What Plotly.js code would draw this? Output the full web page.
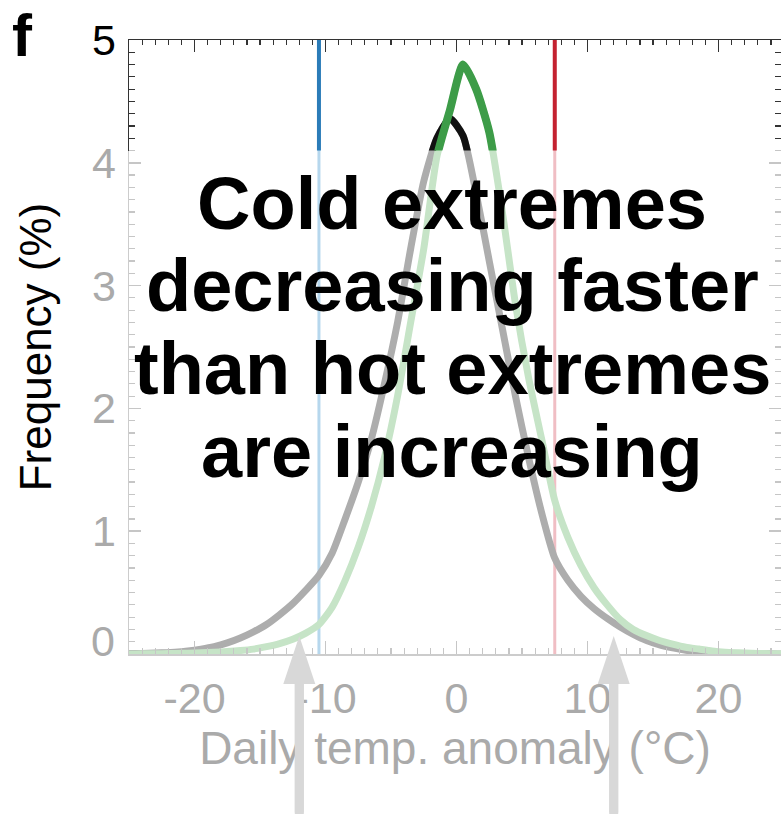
<!DOCTYPE html>
<html>
<head>
<meta charset="utf-8">
<script src="https://cdn.plot.ly/plotly-3.0.1.min.js"></script>
<style>html,body{margin:0;padding:0;background:#fff;}#chart{width:781px;height:814px;}</style>
</head>
<body>
<div id="chart"></div>
<script>
// Daily temperature anomaly bins (°C)
const tempBins = [-25.5,-24.5,-23.5,-22.5,-21.5,-20.5,-19.5,-18.5,-17.5,-16.5,-15.5,-14.5,-13.5,-12.5,-11.5,-10.5,-9.5,-8.5,-7.5,-6.5,-5.5,-4.5,-3.5,-2.5,-1.5,-0.5,
                  0.5,1.5,2.5,3.5,4.5,5.5,6.5,7.5,8.5,9.5,10.5,11.5,12.5,13.5,14.5,15.5,16.5,17.5,18.5,19.5,20.5,21.5,22.5,23.5,24.5,25.5];
// Frequency (%) – reference period (black / grey)
const freqBaseline = [0.003,0.004,0.006,0.01,0.015,0.025,0.04,0.06,0.09,0.13,0.18,0.24,0.32,0.41,0.52,0.64,0.82,1.1,1.4,1.75,2.2,2.7,3.3,3.85,4.2,4.36,
                      4.22,3.75,3.2,2.65,2.1,1.6,1.15,0.78,0.6,0.47,0.37,0.29,0.22,0.16,0.11,0.075,0.05,0.03,0.02,0.012,0.008,0.005,0.003,0.002,0.001,0.001];
// Frequency (%) – recent period (green)
const freqRecent = [0.001,0.001,0.002,0.003,0.005,0.007,0.01,0.014,0.02,0.028,0.04,0.06,0.085,0.12,0.17,0.24,0.38,0.6,0.87,1.2,1.6,2.1,2.7,3.3,4.05,4.43,
                    4.8,4.6,4.25,3.6,2.85,2.25,1.75,1.25,0.95,0.72,0.54,0.4,0.28,0.2,0.15,0.11,0.08,0.055,0.04,0.025,0.015,0.01,0.006,0.004,0.002,0.001];
// Extreme thresholds (°C)
const coldThreshold = -10.5;
const hotThreshold = 7.5;
// Arrow positions (°C)
const arrowX = [-12, 12];
// Tick labels
const xTickVals = [-20, -10, 0, 10, 20];
const xTickText = ['-20', '-10', '0', '10', '20'];
const yTickVals = [1, 2, 3, 4];
const yZeroLabel = '0';
const yTopTickVals = [5];
const fadeLevel = 4.1;
const yMax = 5;
const annotationLines = ['Cold extremes', 'decreasing faster', 'than hot extremes', 'are increasing'];

const FONT = 'Liberation Sans, Arial, Helvetica, sans-serif';
const plotLeft = 129, plotTop = 40, plotBottom = 654, plotW = 652;
const plotH = plotBottom - plotTop;
const py = p => (plotBottom - p) / plotH;
const px = p => (p - plotLeft) / plotW;

const faded = {gray:'#adadad', green:'#c6e4c7', blue:'#b6d7ed', red:'#f0bec4'};
const dark = {black:'#111111', green:'#3d9c48', blue:'#2b7cb8', red:'#c42230'};

function vline(xv, color, w, yaxis) {
  return {x:[xv, xv], y:[0, yMax], mode:'lines', yaxis:yaxis, line:{color:color, width:w}, hoverinfo:'skip', showlegend:false};
}
function curve(y, color, w, yaxis) {
  return {x:tempBins, y:y, mode:'lines', yaxis:yaxis, line:{color:color, width:w, shape:'spline', smoothing:0.6}, hoverinfo:'skip', showlegend:false};
}

const traces = [
  vline(coldThreshold, faded.blue, 3, 'y'),
  vline(hotThreshold, faded.red, 3, 'y'),
  curve(freqBaseline, faded.gray, 7, 'y'),
  curve(freqRecent, faded.green, 7, 'y'),
  vline(coldThreshold, dark.blue, 4, 'y2'),
  vline(hotThreshold, dark.red, 4, 'y2'),
  curve(freqBaseline, dark.black, 7, 'y2'),
  curve(freqRecent, dark.green, 8, 'y2'),
  {x:[], y:[], xaxis:'x2', yaxis:'y', mode:'lines', showlegend:false, hoverinfo:'skip'}
];

const xr = [-25, 24.77];
const grayTick = '#c6c6c6';
const darkTick = '#333333';

const annotations = [];
const baselines = [229, 311, 394, 477];
const fs = 74;
annotationLines.forEach((t, i) => {
  annotations.push({
    xref:'paper', yref:'paper', x:px(452), y:py(baselines[i] - 0.3465*fs),
    xanchor:'center', yanchor:'middle', showarrow:false, text:t,
    font:{family:FONT, size:fs, color:'#000', weight:'bold'}
  });
});
annotations.push({
  xref:'paper', yref:'paper', x:px(10), y:py(0), xanchor:'left', yanchor:'top',
  showarrow:false, text:'f', font:{family:FONT, size:60, color:'#000', weight:'bold'}
});
// y "0" label, raised slightly above the x axis as in the original figure
annotations.push({
  xref:'paper', yref:'paper', x:px(117), y:py(641), xanchor:'right', yanchor:'middle',
  showarrow:false, text:yZeroLabel, font:{family:FONT, size:43, color:'#aaaaaa'}
});
// arrow shafts drawn over the axis title
arrowX.forEach(ax => {
  annotations.push({
    xref:'x', yref:'paper', x:ax, y:py(684), ax:0, ay:150, text:'',
    showarrow:true, arrowhead:0, arrowwidth:9, arrowcolor:'#d8d8d8', standoff:0, startstandoff:0
  });
});

const shapes = arrowX.map(ax => ({
  type:'path', xref:'x', yref:'paper', xsizemode:'pixel', ysizemode:'pixel', xanchor:ax, yanchor:0,
  path:'M-4.5,-200L-4.5,-30L-16,-30L0,18L16,-30L4.5,-30L4.5,-200Z',
  fillcolor:'#d8d8d8', line:{width:0}, layer:'above'
}));

const layout = {
  width:781, height:814,
  margin:{l:plotLeft, r:0, t:plotTop, b:814-plotBottom, pad:0},
  paper_bgcolor:'#fff', plot_bgcolor:'rgba(0,0,0,0)',
  font:{family:FONT},
  showlegend:false,
  xaxis:{
    range:xr, anchor:'y', ticks:'inside', tickmode:'array', tickvals:xTickVals, ticktext:xTickText,
    ticklen:13, tickwidth:1.5, tickcolor:grayTick,
    minor:{tickmode:'linear', tick0:0, dtick:1, ticks:'inside', ticklen:6, tickwidth:1.2, tickcolor:grayTick, showgrid:false},
    showline:true, linecolor:'#cccccc', linewidth:1.5, showgrid:false, zeroline:false,
    tickfont:{family:FONT, size:43, color:'#aaaaaa'}, ticklabelstandoff:6,
    title:{text:'Daily temp. anomaly (°C)', font:{family:FONT, size:46, color:'#aaaaaa'}, standoff:6}
  },
  xaxis2:{
    range:xr, overlaying:'x', anchor:'y', side:'top', ticks:'inside', tickmode:'array', tickvals:xTickVals,
    ticklen:12, tickwidth:1.5, tickcolor:darkTick,
    minor:{tickmode:'linear', tick0:0, dtick:1, ticks:'inside', ticklen:5, tickwidth:1.2, tickcolor:darkTick, showgrid:false},
    showline:true, linecolor:darkTick, linewidth:1.5, showgrid:false, zeroline:false, showticklabels:false
  },
  yaxis:{
    range:[0, yMax], domain:[0, 1], anchor:'x', ticks:'inside', tickmode:'array', tickvals:yTickVals,
    ticklen:12, tickwidth:1.5, tickcolor:grayTick, mirror:'ticks',
    minor:{tickmode:'linear', tick0:0, dtick:0.1, ticks:'inside', ticklen:6, tickwidth:1.2, tickcolor:grayTick, showgrid:false},
    showline:true, linecolor:'#cccccc', linewidth:1.5, showgrid:false, zeroline:false,
    tickfont:{family:FONT, size:43, color:'#aaaaaa'}, ticklabelstandoff:3,
    title:{text:'Frequency (%)', font:{family:FONT, size:44, color:'#000'}, standoff:26}
  },
  yaxis2:{
    range:[fadeLevel, yMax], domain:[fadeLevel/yMax, 1], anchor:'x', ticks:'inside', tickmode:'array', tickvals:yTopTickVals,
    ticklen:12, tickwidth:1.5, tickcolor:darkTick, mirror:'ticks',
    minor:{tickmode:'linear', tick0:0, dtick:0.1, ticks:'inside', ticklen:6, tickwidth:1.2, tickcolor:darkTick, showgrid:false},
    showline:true, linecolor:darkTick, linewidth:1.5, showgrid:false, zeroline:false,
    tickfont:{family:FONT, size:43, color:'#000'}, ticklabelstandoff:3
  },
  annotations:annotations,
  shapes:shapes
};

Plotly.newPlot('chart', traces, layout, {displayModeBar:false, staticPlot:true});
</script>
</body>
</html>
